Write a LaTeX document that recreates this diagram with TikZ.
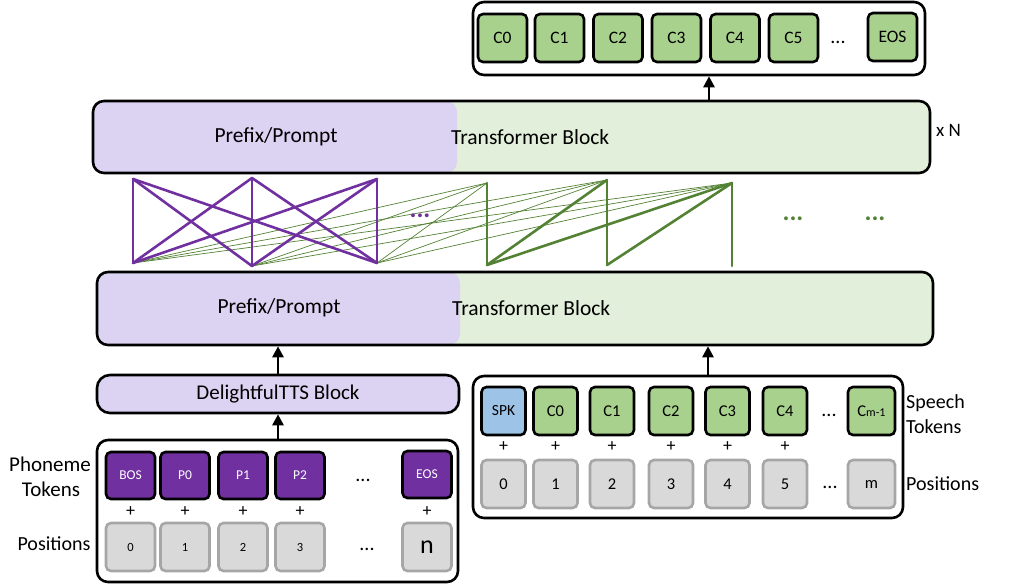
\documentclass[tikz,border=0pt]{standalone}
\usepackage{fontspec}
\setmainfont{Carlito}
\usetikzlibrary{arrows.meta}
\definecolor{pdark}{HTML}{7030A0}
\definecolor{plight}{HTML}{DCD3F3}
\definecolor{glight}{HTML}{E2EFDA}
\definecolor{gtok}{HTML}{A9D18E}
\definecolor{gline}{HTML}{548235}
\definecolor{btok}{HTML}{9DC3E6}
\definecolor{gyfill}{HTML}{D9D9D9}
\definecolor{gyline}{HTML}{A6A6A6}
\newcommand{\fs}[1]{\fontsize{#1}{#1}\selectfont}
\begin{document}
\begin{tikzpicture}[x=1pt,y=-1pt,
  bigbox/.style={draw=black,line width=2.6pt,rounded corners=11pt,inner sep=0pt},
  gtoken/.style={draw=black,line width=2.6pt,fill=gtok,rounded corners=5pt,minimum width=#1,minimum height=48pt,inner sep=0pt,font=\fs{16.5}},
  gtoken/.default=44pt,
  otoken/.style={draw=black,line width=2.6pt,fill=gtok,rounded corners=5pt,minimum width=49pt,minimum height=48pt,inner sep=0pt,font=\fs{17.5}},
  ptoken/.style={draw=black,line width=2.6pt,fill=pdark,text=white,rounded corners=5pt,minimum width=49pt,minimum height=47pt,inner sep=0pt,font=\fs{13.5}},
  postoken/.style={draw=gyline,line width=2.6pt,fill=gyfill,rounded corners=5pt,minimum width=#1,minimum height=48pt,inner sep=0pt,font=\fs{12.5}},
  postoken/.default=49pt,
  plus/.style={inner sep=0pt,font=\fs{18}},
  dots/.style={inner sep=0pt,font=\fs{20}},
  lbl/.style={inner sep=0pt,font=\fs{20}},
  arr/.style={line width=2.6pt,-{Triangle[width=11pt,length=11pt]}},
  patt/.style={pdark,line width=2.6pt,line cap=round},
  gatt/.style={gline,line width=2.6pt,line cap=round},
  thin/.style={gline,line width=0.7pt},
]
\useasboundingbox (0,0) rectangle (1009,587);

% ---------- output tokens ----------
\node[bigbox,minimum width=452pt,minimum height=73pt] (outbox) at (699,38.5) {};
\node[otoken] (o0) at (502.5,38) {C0};
\node[otoken] (o1) at (559.5,38) {C1};
\node[otoken] (o2) at (618,38) {C2};
\node[otoken] (o3) at (676.5,38) {C3};
\node[otoken] (o4) at (735,38) {C4};
\node[otoken] (o5) at (793.5,38) {C5};
\node[dots] (od) at (838,42) {...};
\node[otoken] (oe) at (892.5,37) {EOS};

% ---------- top transformer block ----------
\node[bigbox,fill=glight,minimum width=837pt,minimum height=72pt,
  path picture={\fill[plight,rounded corners=11pt] ([xshift=-20pt]path picture bounding box.north west) rectangle ([xshift=364pt]path picture bounding box.south west);}]
  (tf1) at (511.5,137) {};
\node[inner sep=0pt,font=\fs{21.5}] (tf1p) at (276,137) {Prefix/Prompt};
\node[inner sep=0pt,font=\fs{21.5},anchor=west] (tf1t) at (451,137) {Transformer Block};
\node[inner sep=0pt,font=\fs{19},anchor=west] (xn) at (936,130) {x N};

\coordinate (ax1) at (709,0);
\draw[arr] (tf1.north -| ax1) -- (outbox.south -| ax1);

% ---------- attention pattern ----------
\coordinate (pt1) at (133,179);
\coordinate (pt2) at (252,178);
\coordinate (pt3) at (377,179);
\coordinate (pb1) at (133,263);
\coordinate (pb2) at (252,266);
\coordinate (pb3) at (377,263);
\coordinate (gt1) at (487,183);
\coordinate (gt2) at (607,180);
\coordinate (gt3) at (732,183);
\coordinate (gb1) at (487,265);
\coordinate (gb2) at (607,265);
\coordinate (gb3) at (732,266);

\foreach \i in {1,2,3}{
  \foreach \j in {1,2,3}{
    \draw[thin] (pb\i) -- (gt\j);
  }
}
\foreach \i in {1,2,3}{
  \foreach \j in {1,2,3}{
    \draw[patt] (pt\i) -- (pb\j);
  }
}
\draw[gatt] (gt1) -- (gb1);
\draw[gatt] (gt2) -- (gb1);
\draw[gatt] (gt2) -- (gb2);
\draw[gatt] (gt3) -- (gb1);
\draw[gatt] (gt3) -- (gb2);
\draw[gatt] (gt3) -- (gb3);
\node[dots,text=pdark,font=\fs{26}\bfseries] (pd) at (420,216) {...};
\node[dots,text=gline,font=\fs{26}\bfseries] (gd1) at (793,219) {...};
\node[dots,text=gline,font=\fs{26}\bfseries] (gd2) at (875,219) {...};

% ---------- bottom transformer block ----------
\node[bigbox,fill=glight,minimum width=836pt,minimum height=73pt,
  path picture={\fill[plight,rounded corners=11pt] ([xshift=-20pt]path picture bounding box.north west) rectangle ([xshift=363pt]path picture bounding box.south west);}]
  (tf2) at (515,308.5) {};
\node[inner sep=0pt,font=\fs{21.5}] (tf2p) at (279,308) {Prefix/Prompt};
\node[inner sep=0pt,font=\fs{21.5},anchor=west] (tf2t) at (452,308) {Transformer Block};

% ---------- DelightfulTTS ----------
\node[bigbox,fill=plight,rounded corners=13pt,minimum width=362pt,minimum height=38pt,font=\fs{21}] (dtts) at (278,394) {DelightfulTTS Block};
\coordinate (ax2) at (278,0);
\draw[arr] (dtts.north -| ax2) -- (tf2.south -| ax2);

% ---------- phoneme box ----------
\node[bigbox,minimum width=361pt,minimum height=142pt] (pbox) at (277.5,511) {};
\draw[arr] (pbox.north -| ax2) -- (dtts.south -| ax2);
\node[ptoken] (p0) at (130.5,475.5) {BOS};
\node[ptoken] (p1) at (185,475.5) {P0};
\node[ptoken] (p2) at (243,475.5) {P1};
\node[ptoken] (p3) at (300,475.5) {P2};
\node[dots] (pdt) at (363,480) {...};
\node[ptoken] (p4) at (427,474.5) {EOS};
\foreach \n/\x in {a/130.5,b/185,c/243,d/300,e/427}{
  \node[plus] (pp\n) at (\x,512) {+};
}
\node[postoken] (q0) at (130.5,547) {0};
\node[postoken] (q1) at (185,547) {1};
\node[postoken] (q2) at (243,547) {2};
\node[postoken] (q3) at (300,547) {3};
\node[dots] (qdt) at (367,549) {...};
\node[postoken,font=\fs{26}] (q4) at (427,547) {n};
\node[lbl,font=\fs{21}] (phl1) at (50,464) {Phoneme};
\node[lbl,font=\fs{21}] (phl2) at (51,489) {Tokens};
\node[lbl] (phl3) at (54,544) {Positions};

% ---------- speech box ----------
\node[bigbox,minimum width=430pt,minimum height=142pt] (sbox) at (688,447) {};
\coordinate (ax3) at (708,0);
\draw[arr] (sbox.north -| ax3) -- (tf2.south -| ax3);
\node[gtoken,fill=btok,font=\fs{15.5}] (s0) at (503.5,411) {SPK};
\node[gtoken] (s1) at (555.5,411) {C0};
\node[gtoken] (s2) at (612,411) {C1};
\node[gtoken] (s3) at (671,411) {C2};
\node[gtoken] (s4) at (727.5,411) {C3};
\node[gtoken] (s5) at (785,411) {C4};
\node[dots] (sdt) at (829,415) {...};
\node[gtoken=47pt] (s6) at (871.5,411) {C{\fs{12}m-1}};
\foreach \n/\x in {a/503.5,b/555.5,c/612,d/671,e/727.5,f/785}{
  \node[plus] (sp\n) at (\x,447) {+};
}
\node[postoken=44pt,font=\fs{16.5}] (t0) at (503.5,484) {0};
\node[postoken=44pt,font=\fs{16.5}] (t1) at (555.5,484) {1};
\node[postoken=44pt,font=\fs{16.5}] (t2) at (612,484) {2};
\node[postoken=44pt,font=\fs{16.5}] (t3) at (671,484) {3};
\node[postoken=44pt,font=\fs{16.5}] (t4) at (727.5,484) {4};
\node[postoken=44pt,font=\fs{16.5}] (t5) at (785,484) {5};
\node[dots] (tdt) at (830,487) {...};
\node[postoken=47pt,font=\fs{16.5}] (t6) at (871.5,484) {m};
\node[lbl,anchor=west] (spl1) at (906,403) {Speech};
\node[lbl,anchor=west] (spl2) at (906,427) {Tokens};
\node[lbl,anchor=west] (spl3) at (906,484) {Positions};
\end{tikzpicture}
\end{document}
